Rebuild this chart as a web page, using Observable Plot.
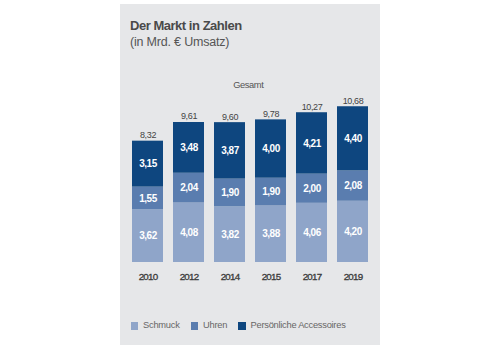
<!DOCTYPE html>
<html>
<head>
<meta charset="utf-8">
<script src="https://cdn.jsdelivr.net/npm/d3@7"></script>
<script src="https://cdn.jsdelivr.net/npm/@observablehq/plot@0.6"></script>
<style>
  html, body { margin: 0; padding: 0; background: #fff; }
  body { width: 500px; height: 350px; position: relative; font-family: "Liberation Sans", Arial, sans-serif; overflow: hidden; }
  #panel { position: absolute; left: 120px; top: 4px; width: 260px; height: 341px; background: #e6e7e9; }
  .lbl { position: absolute; white-space: nowrap; }
  #title { left: 10px; top: 14.5px; font-size: 13px; line-height: 13px; font-weight: bold; color: #4a4a4a; }
  #subtitle { left: 10px; top: 32px; font-size: 12.5px; line-height: 12.5px; color: #555; }
  #gesamt { top: 77.4px; font-size: 9.3px; line-height: 9.3px; color: #555; }
  #chart { position: absolute; left: 0; top: 0; }
  #legend { position: absolute; left: 10.7px; top: 317.1px; display: flex; align-items: center; font-size: 9.3px; line-height: 9.3px; color: #666; white-space: nowrap; }
  #legend .item { display: flex; align-items: center; }
  #legend .sw { width: 7.7px; height: 7.7px; margin-right: 4.6px; flex: none; }
</style>
</head>
<body>
<div id="panel">
  <div id="title" class="lbl">Der Markt in Zahlen</div>
  <div id="subtitle" class="lbl">(in Mrd. € Umsatz)</div>
  <div id="gesamt" class="lbl">Gesamt</div>
  <div id="chart"></div>
  <div id="legend"></div>
</div>
<script>
const years = ["2010", "2012", "2014", "2015", "2017", "2019"];
const seriesNames = ["Schmuck", "Uhren", "Persönliche Accessoires"];
const schmuck = [3.62, 4.08, 3.82, 3.88, 4.06, 4.20];
const uhren = [1.55, 2.04, 1.90, 1.90, 2.00, 2.08];
const accessoires = [3.15, 3.48, 3.87, 4.00, 4.21, 4.40];
const totals = [8.32, 9.61, 9.60, 9.78, 10.27, 10.68];
const colors = ["#8fa5c9", "#5a7daf", "#0e467f"];

const seriesValues = [schmuck, uhren, accessoires];
const rows = [];
seriesNames.forEach((s, i) => years.forEach((y, j) => rows.push({year: y, series: s, value: seriesValues[i][j]})));
const totalRows = years.map((y, j) => ({year: y, total: totals[j]}));
const fmt = v => d3.format(".2f")(v).replace(".", ",");

const chart = Plot.plot({
  width: 260,
  height: 300,
  marginLeft: 0,
  marginRight: 0,
  marginTop: 83,
  marginBottom: 42,
  style: {background: "transparent", fontFamily: "Liberation Sans, Arial, sans-serif"},
  x: {domain: years, padding: 0.233, label: null},
  y: {domain: [0, 12], axis: null},
  color: {domain: seriesNames, range: colors},
  marks: [
    Plot.barY(rows, {x: "year", y: "value", fill: "series", z: "series", order: seriesNames}),
    Plot.text(rows, Plot.stackY({x: "year", y: "value", z: "series", order: seriesNames, text: d => fmt(d.value), fill: "white", fontWeight: "bold", fontSize: 10, lineAnchor: "middle"})),
    Plot.text(totalRows, {x: "year", y: "total", text: d => fmt(d.total), fill: "#444", fontSize: 9, lineAnchor: "bottom", dy: -3}),
    Plot.axisX({tickSize: 0, tickPadding: 11, fontSize: 9.8, color: "#3a3a3a", label: null})
  ]
});
document.getElementById("chart").appendChild(chart);

// fit letter spacing of svg text groups to the reference widths
function fitSvgGroup(texts, sample, target) {
  const el = texts.find(t => t.textContent === sample);
  if (!el) return;
  const w = el.getComputedTextLength();
  const ls = (target - w) / sample.length;
  texts.forEach(t => t.setAttribute("letter-spacing", ls.toFixed(2)));
}
const allTexts = Array.from(chart.querySelectorAll("text"));
const innerTexts = allTexts.filter(t => (t.closest("g[fill]") || t).getAttribute("fill") === "white" || t.getAttribute("fill") === "white");
const totalTexts = allTexts.filter(t => totals.map(fmt).includes(t.textContent) && !innerTexts.includes(t));
const yearTexts = allTexts.filter(t => years.includes(t.textContent));
fitSvgGroup(innerTexts, "3,48", 17.7);
fitSvgGroup(totalTexts, "10,68", 20.7);
fitSvgGroup(yearTexts, "2010", 18.7);
yearTexts.forEach(t => { t.setAttribute("stroke", "#3a3a3a"); t.setAttribute("stroke-width", "0.3"); t.setAttribute("paint-order", "stroke"); });

// legend
const legend = document.getElementById("legend");
const legendTargets = [36.7, 24.3, 95];
seriesNames.forEach((s, i) => {
  const item = document.createElement("div");
  item.className = "item";
  if (i < seriesNames.length - 1) item.style.marginRight = "11px";
  const sw = document.createElement("div");
  sw.className = "sw";
  sw.style.background = colors[i];
  const t = document.createElement("span");
  t.textContent = s;
  item.appendChild(sw);
  item.appendChild(t);
  legend.appendChild(item);
  const w = t.getBoundingClientRect().width;
  t.style.letterSpacing = ((legendTargets[i] - w) / s.length) + "px";
});

// fit HTML labels
function fitHtml(id, target) {
  const el = document.getElementById(id);
  const w = el.getBoundingClientRect().width;
  el.style.letterSpacing = ((target - w) / el.textContent.length) + "px";
  return el;
}
fitHtml("title", 111.7);
fitHtml("subtitle", 99.3);
const g = fitHtml("gesamt", 30);
g.style.left = (128.3 - g.getBoundingClientRect().width / 2) + "px";
</script>
</body>
</html>
